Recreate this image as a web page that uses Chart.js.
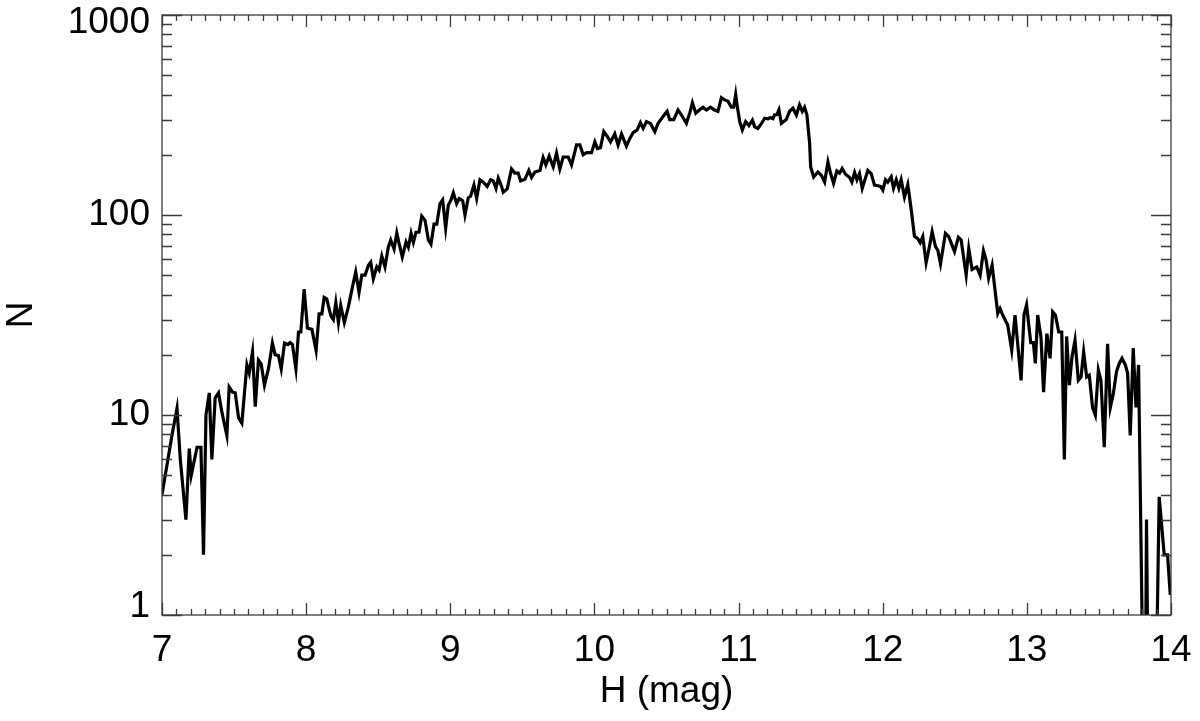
<!DOCTYPE html>
<html>
<head>
<meta charset="utf-8">
<title>H magnitude histogram</title>
<script src="https://cdn.jsdelivr.net/npm/chart.js@4.4.1/dist/chart.umd.min.js"></script>
<style>
  html, body { margin: 0; padding: 0; background: #fff; }
  #wrap { width: 1200px; height: 721px; }
</style>
</head>
<body>
<div id="wrap"><canvas id="histChart"></canvas></div>
<script>
// DATA
const magnitudes = [
  7.000, 7.069, 7.104, 7.127, 7.166, 7.189, 7.203, 7.243, 7.270, 7.288,
  7.305, 7.328, 7.346, 7.369, 7.392, 7.416, 7.450, 7.466, 7.489, 7.508,
  7.531, 7.554, 7.589, 7.605, 7.628, 7.647, 7.669, 7.688, 7.711, 7.739,
  7.766, 7.785, 7.808, 7.827, 7.850, 7.873, 7.889, 7.905, 7.929, 7.947,
  7.963, 7.986, 8.009, 8.040, 8.069, 8.090, 8.109, 8.125, 8.143, 8.171,
  8.189, 8.206, 8.224, 8.240, 8.265, 8.293, 8.321, 8.344, 8.367, 8.386,
  8.409, 8.432, 8.448, 8.466, 8.490, 8.506, 8.525, 8.547, 8.570, 8.587,
  8.610, 8.629, 8.647, 8.667, 8.693, 8.709, 8.728, 8.744, 8.762, 8.783,
  8.802, 8.825, 8.848, 8.866, 8.887, 8.906, 8.929, 8.947, 8.968, 8.986,
  9.005, 9.021, 9.044, 9.062, 9.086, 9.102, 9.125, 9.141, 9.164, 9.183,
  9.206, 9.229, 9.256, 9.280, 9.298, 9.317, 9.333, 9.356, 9.367, 9.395,
  9.425, 9.448, 9.471, 9.488, 9.518, 9.545, 9.564, 9.587, 9.622, 9.644,
  9.663, 9.686, 9.714, 9.737, 9.760, 9.783, 9.818, 9.841, 9.876, 9.899,
  9.922, 9.945, 9.980, 10.003, 10.021, 10.042, 10.065, 10.088, 10.112, 10.141,
  10.164, 10.188, 10.222, 10.245, 10.268, 10.296, 10.319, 10.338, 10.361, 10.389,
  10.419, 10.441, 10.476, 10.504, 10.522, 10.550, 10.580, 10.604, 10.638, 10.661,
  10.680, 10.703, 10.730, 10.753, 10.777, 10.805, 10.834, 10.857, 10.881, 10.904,
  10.927, 10.950, 10.966, 10.980, 10.992, 11.008, 11.026, 11.049, 11.072, 11.096,
  11.112, 11.134, 11.158, 11.181, 11.204, 11.220, 11.238, 11.250, 11.266, 11.280,
  11.297, 11.331, 11.354, 11.377, 11.401, 11.423, 11.442, 11.458, 11.474, 11.493,
  11.500, 11.521, 11.550, 11.574, 11.597, 11.620, 11.636, 11.659, 11.682, 11.701,
  11.719, 11.742, 11.770, 11.786, 11.805, 11.821, 11.839, 11.858, 11.879, 11.897,
  11.920, 11.943, 11.966, 11.985, 12.001, 12.019, 12.035, 12.059, 12.075, 12.094,
  12.112, 12.128, 12.151, 12.174, 12.186, 12.198, 12.220, 12.243, 12.260, 12.278,
  12.301, 12.324, 12.343, 12.366, 12.382, 12.401, 12.435, 12.458, 12.498, 12.525,
  12.544, 12.579, 12.597, 12.620, 12.652, 12.676, 12.699, 12.717, 12.735, 12.759,
  12.782, 12.798, 12.814, 12.832, 12.867, 12.895, 12.918, 12.960, 12.980, 12.998,
  13.027, 13.045, 13.059, 13.075, 13.098, 13.116, 13.139, 13.161, 13.179, 13.198,
  13.221, 13.242, 13.260, 13.276, 13.295, 13.313, 13.334, 13.357, 13.376, 13.394,
  13.415, 13.433, 13.456, 13.475, 13.496, 13.514, 13.537, 13.560, 13.579, 13.600,
  13.622, 13.641, 13.660, 13.683, 13.699, 13.717, 13.738, 13.757, 13.775, 13.818,
  13.830, 13.849, 13.883, 13.918, 13.953, 13.976, 13.995
];

const counts = [
  4.0, 7.9, 10.8, 6.0, 3.0, 6.8, 5.0, 6.9, 6.9, 2.0,
  10, 12.9, 6.0, 12.2, 12.9, 10.3, 7.9, 13.8, 13, 12.9,
  9.7, 9.1, 17.8, 16.2, 20.7, 11, 18.8, 18, 14.1, 17.1,
  22.9, 20, 19.8, 17, 22.9, 22.5, 23, 22.5, 17, 26,
  26, 42.6, 27.2, 26.8, 21, 32, 32, 38.7, 38, 31.4,
  30, 36.5, 29, 35.3, 29, 34.7, 43.6, 51.9, 41, 50,
  50, 56, 58, 48, 55, 53, 62.4, 55, 69, 74.9,
  67.6, 81.3, 70.8, 61.7, 73.3, 69, 81, 73, 82, 82,
  98.8, 94, 75, 71.5, 90, 90, 114, 119, 86, 112,
  119, 129, 114, 121, 118, 100, 122, 124, 141, 121,
  150, 146, 139, 150, 148, 136, 153, 139, 130, 135,
  170, 162, 162, 148, 151, 167, 154, 164, 167, 194,
  178, 197, 174, 204, 170, 195, 195, 178, 224, 224,
  200, 205, 205, 232, 215, 217, 261, 248, 232, 255,
  224, 254, 221, 241, 258, 266, 290, 271, 293, 287,
  261, 287, 311, 330, 300, 300, 335, 316, 287, 323,
  364, 323, 336, 346, 335, 346, 335, 330, 386, 376,
  370, 346, 346, 401, 346, 293, 266, 293, 280, 298,
  276, 271, 286, 305, 303, 307, 303, 317, 318, 336,
  287, 300, 330, 342, 316, 355, 330, 346, 317, 228,
  174, 155, 164, 158, 146, 184, 164, 144, 166, 162,
  171, 160, 154, 146, 163, 150, 161, 136, 152, 167,
  161, 141, 140, 139, 133, 150, 146, 155, 136, 150,
  136, 150, 123, 142, 123, 106, 78.3, 76.1, 72.7, 78,
  57.7, 69.5, 82.5, 69.5, 66.8, 57, 81, 78, 65.6, 77.4,
  75, 50.1, 68, 53.4, 55, 50, 66.2, 59.6, 48.3, 56.2,
  40.5, 32.2, 34.1, 31.6, 28.2, 21.1, 31.6, 14.9, 31.6, 35.5,
  23, 23, 18.1, 31.6, 24.5, 13, 25.5, 19.2, 32.8, 31.6,
  26, 26, 6.0, 24.7, 14.1, 19.5, 23.7, 14.9, 15.5, 20.7,
  15.5, 15.8, 10.9, 10.0, 16.8, 14.9, 6.9, 22.7, 10.9, 12.8,
  16.5, 18.1, 19.2, 17.8, 16.2, 7.9, 21.6, 10.9, 17.8, 0,
  3.0, 0, 0, 3.9, 2.0, 2.0, 1.26
];

// tick labels
const xMajorTicks = [7, 8, 9, 10, 11, 12, 13, 14];
const yMajorTicks = [1, 10, 100, 1000];

// empty bins cannot sit on a log axis; push them below the box so the line drops out of view
const EMPTY_BIN = 0.1;

const FONT = '"Liberation Sans", Arial, Helvetica, sans-serif';

// minor ticks: every 0.1 mag on x, 2..9 per decade on y
function xTickValues() {
  const out = [];
  for (let i = 0; i < xMajorTicks.length - 1; i++) {
    for (let k = 0; k < 10; k++) out.push(Math.round((xMajorTicks[i] + k / 10) * 10) / 10);
  }
  out.push(xMajorTicks[xMajorTicks.length - 1]);
  return out;
}
function yTickValues() {
  const out = [];
  for (let i = 0; i < yMajorTicks.length - 1; i++) {
    for (let k = 1; k < 10; k++) out.push(yMajorTicks[i] * k);
  }
  out.push(yMajorTicks[yMajorTicks.length - 1]);
  return out;
}

// IDL style box with inward ticks on all four sides
const frameTicks = {
  id: 'frameTicks',
  afterDraw(chart) {
    const { ctx, chartArea: a, scales: { x, y } } = chart;
    ctx.save();
    ctx.strokeStyle = '#3a3a3a';
    ctx.lineWidth = 1.3;
    ctx.strokeRect(a.left, a.top, a.right - a.left, a.bottom - a.top);
    ctx.beginPath();
    x.ticks.forEach(t => {
      const px = Math.round(x.getPixelForValue(t.value)) + 0.5;
      const len = xMajorTicks.includes(t.value) ? 12 : 6;
      ctx.moveTo(px, a.bottom); ctx.lineTo(px, a.bottom - len);
      ctx.moveTo(px, a.top); ctx.lineTo(px, a.top + len);
    });
    y.ticks.forEach(t => {
      const py = Math.round(y.getPixelForValue(t.value)) + 0.5;
      const len = yMajorTicks.includes(t.value) ? 20 : 10;
      ctx.moveTo(a.left, py); ctx.lineTo(a.left + len, py);
      ctx.moveTo(a.right, py); ctx.lineTo(a.right - len, py);
    });
    ctx.stroke();
    ctx.restore();
  }
};

const ctx = document.getElementById('histChart').getContext('2d');

const histChart = new Chart(ctx, {
  type: 'line',
  data: {
    datasets: [{
      data: magnitudes.map((m, i) => ({ x: m, y: counts[i] > 0 ? counts[i] : EMPTY_BIN })),
      borderColor: '#000',
      borderWidth: 3.2,
      pointRadius: 0,
      tension: 0,
      fill: false
    }]
  },
  options: {
    responsive: true,
    maintainAspectRatio: false,
    animation: false,
    layout: { padding: { top: 15, right: 29, bottom: 0, left: 0 } },
    plugins: {
      legend: { display: false },
      tooltip: { enabled: false }
    },
    scales: {
      x: {
        type: 'linear',
        min: 7,
        max: 14,
        afterBuildTicks: scale => { scale.ticks = xTickValues().map(v => ({ value: v })); },
        afterFit: scale => {
          scale.height = 106;
          scale.paddingLeft = 0;
          scale.paddingRight = 0;
        },
        grid: { display: false, drawTicks: false },
        border: { display: false },
        ticks: {
          autoSkip: false,
          maxRotation: 0,
          padding: 14,
          color: '#000',
          font: { family: FONT, size: 37 },
          callback: v => (xMajorTicks.includes(v) ? String(v) : '')
        },
        title: {
          display: true,
          text: 'H (mag)',
          color: '#000',
          font: { family: FONT, size: 37 },
          padding: { top: 0, bottom: 7 }
        }
      },
      y: {
        type: 'logarithmic',
        min: 1,
        max: 1000,
        afterBuildTicks: scale => { scale.ticks = yTickValues().map(v => ({ value: v })); },
        afterFit: scale => {
          scale.width = 162;
          scale.paddingTop = 0;
          scale.paddingBottom = 0;
        },
        grid: { display: false, drawTicks: false },
        border: { display: false },
        ticks: {
          autoSkip: false,
          padding: 12,
          color: '#000',
          // end labels sit a little inside the box, like the original
          font: c => ({
            family: FONT,
            size: 37,
            lineHeight: (c.tick && (c.tick.value === 1 || c.tick.value === 1000)) ? '16px' : 1.2
          }),
          callback: v => {
            if (!yMajorTicks.includes(v)) return '';
            if (v === 1000) return ['', '1000'];
            if (v === 1) return ['1', ''];
            return String(v);
          }
        },
        title: {
          display: true,
          text: 'N',
          color: '#000',
          font: { family: FONT, size: 37 },
          padding: { top: 0, bottom: 0 }
        }
      }
    }
  },
  plugins: [frameTicks]
});
</script>
</body>
</html>
